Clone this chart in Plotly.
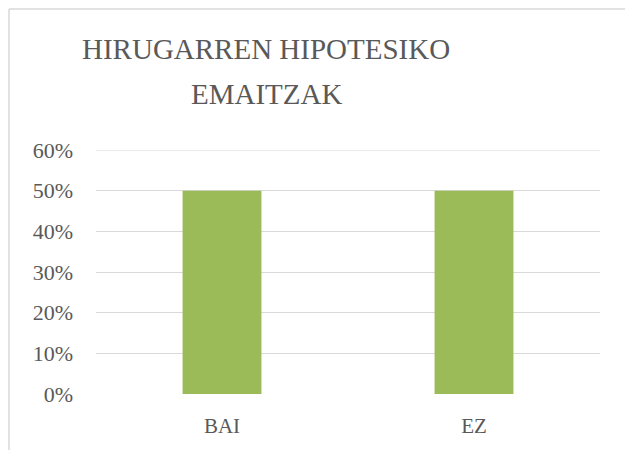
import plotly.graph_objects as go

categories = ["BAI", "EZ"]
values = [0.50, 0.50]
y_ticks = [0, 0.1, 0.2, 0.3, 0.4, 0.5, 0.6]
title_lines = ["HIRUGARREN HIPOTESIKO", "EMAITZAK"]

W, H = 625, 450
L, R, T, B = 96, 25, 150, 56
pw, ph = W - L - R, H - T - B

def px(x):
    return (x - L) / pw

def py(y):
    return (H - B - y) / ph

fig = go.Figure(go.Bar(x=categories, y=values, marker_color="#9BBB59",
                       marker_line_width=0, hoverinfo="skip"))

gray = "#595959"
grid = "#D9D9D9"
font_family = "Liberation Serif"

fig.update_layout(
    width=W, height=H,
    margin=dict(l=L, r=R, t=T, b=B, autoexpand=False),
    paper_bgcolor="white", plot_bgcolor="white",
    bargap=0.687,
    showlegend=False,
    font=dict(family=font_family, color=gray),
    xaxis=dict(showgrid=False, showline=False, zeroline=False,
               tickfont=dict(size=21, color=gray, family=font_family),
               ticklabelstandoff=17),
    yaxis=dict(range=[0, 0.6], tickvals=y_ticks, tickformat=".0%",
               showgrid=True, gridcolor=grid, gridwidth=1,
               zeroline=False, showline=False,
               tickfont=dict(size=22, color=gray, family=font_family),
               ticklabelstandoff=22),
)

# top gridline (plotly drops gridlines on the plot edge)
fig.add_shape(type="line", xref="paper", yref="y",
              x0=0, x1=1, y0=y_ticks[-1], y1=y_ticks[-1],
              line=dict(color=grid, width=1), layer="below")

for text, yc in zip(title_lines, [49, 94.5]):
    fig.add_annotation(text=text, xref="paper", yref="paper",
                       x=px(266), y=py(yc), xanchor="center", yanchor="middle",
                       showarrow=False,
                       font=dict(size=29, color=gray, family=font_family))

# chart border (top and left visible)
fig.add_shape(type="line", xref="paper", yref="paper",
              x0=px(9), x1=px(640), y0=py(9), y1=py(9),
              line=dict(color=grid, width=1.5))
fig.add_shape(type="line", xref="paper", yref="paper",
              x0=px(9), x1=px(9), y0=py(9), y1=py(470),
              line=dict(color=grid, width=1.5))

fig.write_html("out.html")
